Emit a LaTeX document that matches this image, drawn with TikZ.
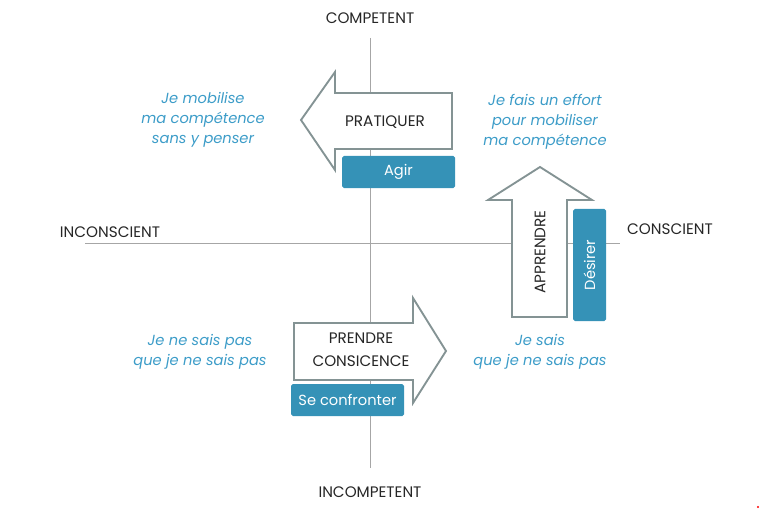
\documentclass[tikz,border=0pt]{standalone}
\usepackage{fontspec}
\setmainfont{Poppins}
\usetikzlibrary{positioning}
\definecolor{axisgray}{HTML}{A6A6A6}
\definecolor{arrgray}{HTML}{849394}
\definecolor{boxblue}{HTML}{3592B7}
\definecolor{txtblue}{HTML}{3C9CC8}
\tikzset{
  lbl/.style={font=\fontsize{13}{20}\selectfont, text=black!85},
  note/.style={font=\fontsize{12.5}{17}\selectfont\itshape, text=txtblue, align=center},
  act/.style={fill=boxblue, rounded corners=1.5pt, text=white, font=\fontsize{12.5}{15}\selectfont},
  big/.style={draw=arrgray, line width=1.6pt, fill=white, line join=miter},
}
\begin{document}
\begin{tikzpicture}[x=0.03cm,y=-0.03cm]
        \useasboundingbox (0,0) rectangle (763,513);

        % axes
        \draw[axisgray, line width=0.8pt] (370,38) -- (370,468);
        \draw[axisgray, line width=0.8pt] (85,243) -- (620,243);
        \node[lbl] (comp) at (370,18) {COMPETENT};
        \node[lbl] (incomp) at (370,492) {INCOMPETENT};
        \node[lbl] (incons) at (110,232) {INCONSCIENT};
        \node[lbl] (cons) at (670,229) {CONSCIENT};

        % pratiquer
        \draw[big] (452,93) -- (335,93) -- (335,72) -- (301,120) -- (335,170) -- (335,149) -- (452,149) -- cycle;
        \node[lbl] (prat) at (385,122) {PRATIQUER};
        \node[act, minimum width=3.39cm, minimum height=0.96cm] (agir) at (398.5,172) {Agir};

        % apprendre
        \draw[big] (512,317) -- (512,200) -- (488,200) -- (540,167) -- (592,200) -- (567,200) -- (567,317) -- cycle;
        \node[lbl, rotate=90] (appr) at (540,252) {APPRENDRE};
        \node[act, minimum width=0.99cm, minimum height=3.36cm] (des) at (589.5,265) {};
        \node[act, fill=none, rotate=90] (destxt) at (des.center) {Désirer};

        % prendre conscience
        \draw[big] (294,323) -- (413,323) -- (413,298) -- (446,351) -- (413,403) -- (413,380) -- (294,380) -- cycle;
        \node[lbl, align=center] (prend) at (361,350) {PRENDRE\\CONSICENCE};
        \node[act, minimum width=3.39cm, minimum height=0.96cm] (conf) at (347.5,400) {Se confronter};

        % notes
        \node[note] (n1) at (203,120) {Je mobilise\\ma compétence\\sans y penser};
        \node[note] (n2) at (545,122) {Je fais un effort\\pour mobiliser\\ma compétence};
        \node[note] (n3) at (200,352) {Je ne sais pas\\que je ne sais pas};
        \node[note] (n4) at (540,352) {Je sais\\que je ne sais pas};

        \fill[red] (758,507) circle (1.2);
    \end{tikzpicture}
\end{document}
